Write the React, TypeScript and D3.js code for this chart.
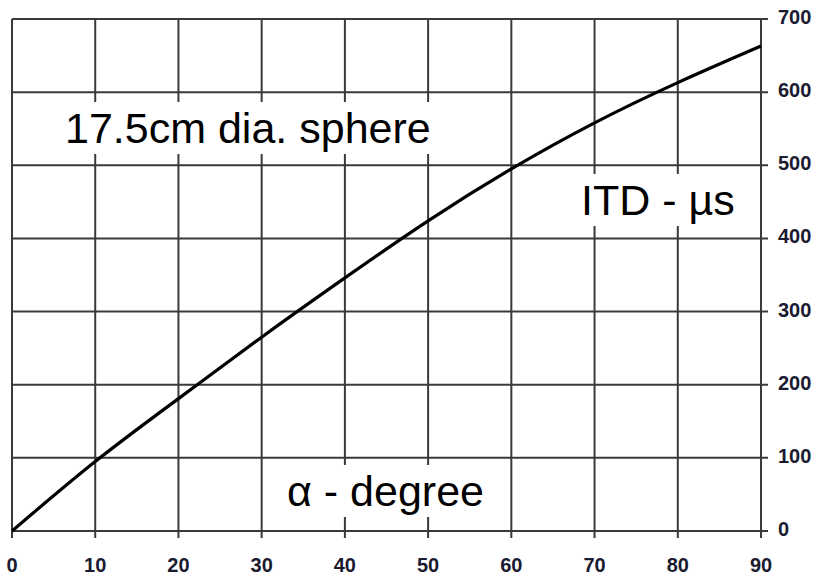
import React, { useRef, useEffect } from "react";
import * as d3 from "d3";

// angle (degree) vs interaural time difference (microseconds)
const angles = [0, 10, 20, 30, 40, 50, 60, 70, 80, 90];
const itd = [0, 95, 181, 265, 346, 424, 495, 558, 613, 663];
const xTicks = [0, 10, 20, 30, 40, 50, 60, 70, 80, 90];
const yTicks = [0, 100, 200, 300, 400, 500, 600, 700];

const W = 821;
const H = 582;

function App() {
  const svgRef = useRef(null);

  useEffect(() => {
    const svg = d3.select(svgRef.current);
    svg.selectAll("*").remove();

    const x = d3.scaleLinear().domain([0, 90]).range([12, 761]);
    const y = d3.scaleLinear().domain([0, 700]).range([531, 19]);

    const grid = svg.append("g").attr("stroke", "#3a3a3a").attr("stroke-width", 2);
    grid
      .selectAll(".vx")
      .data(xTicks)
      .join("line")
      .attr("x1", (d) => x(d))
      .attr("x2", (d) => x(d))
      .attr("y1", y(700))
      .attr("y2", y(0) + 7);
    grid
      .selectAll(".hy")
      .data(yTicks)
      .join("line")
      .attr("x1", x(0))
      .attr("x2", x(90) + 7)
      .attr("y1", (d) => y(d))
      .attr("y2", (d) => y(d));

    const font = "'Liberation Sans', Arial, sans-serif";

    // labels sit on white boxes that hide the grid
    const labels = [
      { text: "17.5cm dia. sphere", x: 65, y: 143, pad: 8 },
      { text: "ITD - \u00b5s", x: 581, y: 215, pad: 8 },
      { text: "\u03b1 - degree", x: 287, y: 506, pad: 8 },
    ];
    labels.forEach((l) => {
      const r = svg.append("rect").attr("fill", "#fff");
      const t = svg
        .append("text")
        .attr("x", l.x)
        .attr("y", l.y)
        .attr("font-family", font)
        .attr("font-size", 43)
        .attr("fill", "#000")
        .text(l.text);
      const b = (t.node() as SVGTextElement).getBBox();
      r.attr("x", b.x - l.pad)
        .attr("y", b.y - 2)
        .attr("width", b.width + l.pad * 2)
        .attr("height", b.height + 4);
    });

    const line = d3
      .line<number>()
      .x((_, i) => x(angles[i]))
      .y((d) => y(d))
      .curve(d3.curveNatural);
    svg
      .append("path")
      .attr("d", line(itd))
      .attr("fill", "none")
      .attr("stroke", "#000")
      .attr("stroke-width", 3.2);

    svg
      .append("g")
      .selectAll("text")
      .data(xTicks)
      .join("text")
      .attr("x", (d) => x(d))
      .attr("y", 572)
      .attr("text-anchor", "middle")
      .attr("font-family", font)
      .attr("font-size", 20)
      .attr("font-weight", "bold")
      .attr("fill", "#1a1a30")
      .text((d) => d);

    svg
      .append("g")
      .selectAll("text")
      .data(yTicks)
      .join("text")
      .attr("x", 778)
      .attr("y", (d) => y(d) + 5)
      .attr("font-family", font)
      .attr("font-size", 20)
      .attr("font-weight", "bold")
      .attr("fill", "#1a1a30")
      .text((d) => d);
  }, []);

  return (
    <svg
      ref={svgRef}
      width={W}
      height={H}
      style={{ position: "absolute", left: 0, top: 0, background: "#fff" }}
    />
  );
}

export default App;
